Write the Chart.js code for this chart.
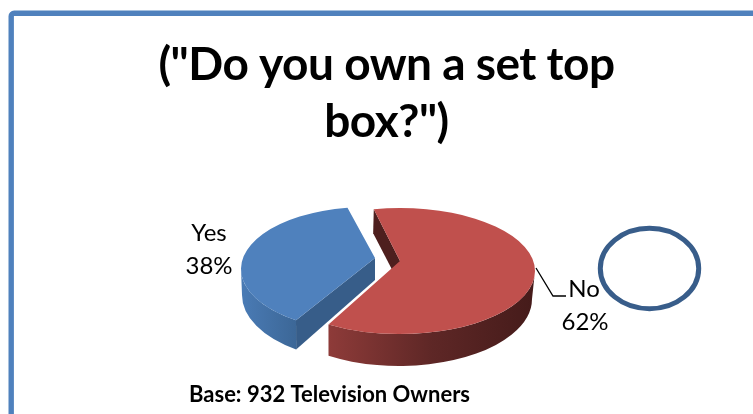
<!DOCTYPE html>
<html>
<head>
<meta charset="utf-8">
<title>Set top box ownership</title>
<script src="https://cdn.jsdelivr.net/npm/chart.js@4"></script>
<style>
  html, body { margin: 0; padding: 0; background: #fff; overflow: hidden; }
  canvas { display: block; }
</style>
</head>
<body>
<canvas id="pastel" width="753" height="414"></canvas>
<script>
const categorias = ['Yes', 'No'];
const porcentajes = [38, 62];
const colores = ['#4f81bd', '#c0504d'];
const tituloLineas = ['("Do you own a set top', 'box?")'];
const nota = 'Base: 932 Television Owners';

// each slice sits on its own pair of ellipses (top face, bottom face) since it is pulled out
const forma = [
  { top: [367, 269, 126, 62], bot: [366, 295, 124, 66], apex: [375, 258], apexDepth: 22, giro: 0.04,
    cara: '#375d89', lado: ['#4a7bb5', '#3c6797'] },
  { top: [400, 271, 135, 63], bot: [399, 299, 133, 67], apex: [400, 261], apexDepth: 24, giro: 0,
    cara: '#4e1f1e', lado: ['#8e3b39', '#5e2726', '#451b1a'] }
];
const etiquetas = [
  { x: 209, y: 233, y2: 266 },
  { x: 584, y: 289, y2: 322, x2: 585 }
];

const FUENTE = 'Lato, Carlito, sans-serif';
const NEGRO = '#000';

function puntoElipse(e, ang) {
  return [e[0] + e[2] * Math.cos(ang), e[1] + e[3] * Math.sin(ang)];
}

// part of the slice's rim that faces the viewer (lower half of the ellipse)
function tramoVisible(ini, fin) {
  const vuelta = Math.PI * 2;
  for (let k = -1; k <= 1; k++) {
    const a = Math.max(ini, k * vuelta);
    const b = Math.min(fin, k * vuelta + Math.PI);
    if (b > a) return [a, b];
  }
  return null;
}

function dibujarPorcion(ctx, arco, f, color) {
  const ini = arco.startAngle + f.giro, fin = arco.endAngle + f.giro;
  const [ax, ay] = f.apex;
  const pTop = puntoElipse(f.top, ini);
  const pBot = puntoElipse(f.bot, ini);

  // cut face on the starting edge
  ctx.beginPath();
  ctx.moveTo(pTop[0], pTop[1]);
  ctx.lineTo(ax, ay);
  ctx.lineTo(ax, ay + f.apexDepth);
  ctx.lineTo(pBot[0], pBot[1]);
  ctx.closePath();
  ctx.fillStyle = f.cara;
  ctx.fill();

  // curved rim
  const tramo = tramoVisible(ini, fin);
  if (tramo) {
    const [a, b] = tramo;
    const pa = puntoElipse(f.top, a), pb = puntoElipse(f.top, b);
    const grad = ctx.createLinearGradient(Math.min(pa[0], pb[0]), 0, Math.max(pa[0], pb[0]), 0);
    f.lado.forEach((c, i) => grad.addColorStop(i / (f.lado.length - 1), c));
    ctx.beginPath();
    ctx.ellipse(f.top[0], f.top[1], f.top[2], f.top[3], 0, a, b);
    ctx.ellipse(f.bot[0], f.bot[1], f.bot[2], f.bot[3], 0, b, a, true);
    ctx.closePath();
    ctx.fillStyle = grad;
    ctx.fill();
  }

  // top face
  ctx.beginPath();
  ctx.moveTo(ax, ay);
  ctx.ellipse(f.top[0], f.top[1], f.top[2], f.top[3], 0, ini, fin);
  ctx.closePath();
  ctx.fillStyle = color;
  ctx.fill();
}

const pastel3d = {
  id: 'pastel3d',
  beforeDraw(chart) {
    // blue page frame, runs off the right and bottom edges
    const ctx = chart.ctx;
    ctx.save();
    ctx.beginPath();
    ctx.roundRect(11.2, 13.3, 800, 500, 3);
    ctx.lineWidth = 5.4;
    ctx.strokeStyle = '#4f81bd';
    ctx.stroke();
    ctx.restore();
    // tighter tracking for the title, drawn next
    ctx.letterSpacing = '-0.5px';
  },
  beforeDatasetDraw(chart, args) {
    const ctx = chart.ctx;
    const arcos = args.meta.data;
    ctx.save();
    arcos.forEach((arco, i) => dibujarPorcion(ctx, arco, forma[i], colores[i]));
    ctx.restore();
    return false;
  },
  afterDraw(chart) {
    const ctx = chart.ctx;
    ctx.save();
    ctx.letterSpacing = '0px';
    ctx.fillStyle = NEGRO;
    ctx.textAlign = 'center';
    ctx.textBaseline = 'alphabetic';
    ctx.font = '24px ' + FUENTE;
    categorias.forEach((cat, i) => {
      const e = etiquetas[i];
      ctx.fillText(cat, e.x, e.y + 8);
      ctx.fillText(porcentajes[i] + '%', e.x2 || e.x, e.y2 + 8);
    });
    ctx.font = 'bold 22px ' + FUENTE;
    ctx.fillText(nota, 329.5, 402);

    // leader line for the No label
    ctx.beginPath();
    ctx.moveTo(536, 268);
    ctx.lineTo(553, 296);
    ctx.lineTo(566, 296);
    ctx.lineWidth = 1.3;
    ctx.strokeStyle = NEGRO;
    ctx.stroke();

    // hand-drawn oval next to the No label
    ctx.beginPath();
    ctx.ellipse(649.5, 268.5, 49.2, 40.2, 0, 0, Math.PI * 2);
    ctx.lineWidth = 5;
    ctx.strokeStyle = '#385d8a';
    ctx.stroke();
    ctx.restore();
  }
};

new Chart(document.getElementById('pastel'), {
  type: 'pie',
  data: {
    labels: categorias,
    datasets: [{ data: porcentajes, backgroundColor: colores, borderWidth: 0 }]
  },
  options: {
    responsive: false,
    animation: false,
    rotation: 212,
    layout: { padding: { left: 20, top: 26 } },
    plugins: {
      legend: { display: false },
      tooltip: { enabled: false },
      title: {
        display: true,
        text: tituloLineas,
        color: NEGRO,
        font: { family: FUENTE, size: 46, weight: 'bold', lineHeight: 1.25 }
      }
    }
  },
  plugins: [pastel3d]
});
</script>
</body>
</html>
